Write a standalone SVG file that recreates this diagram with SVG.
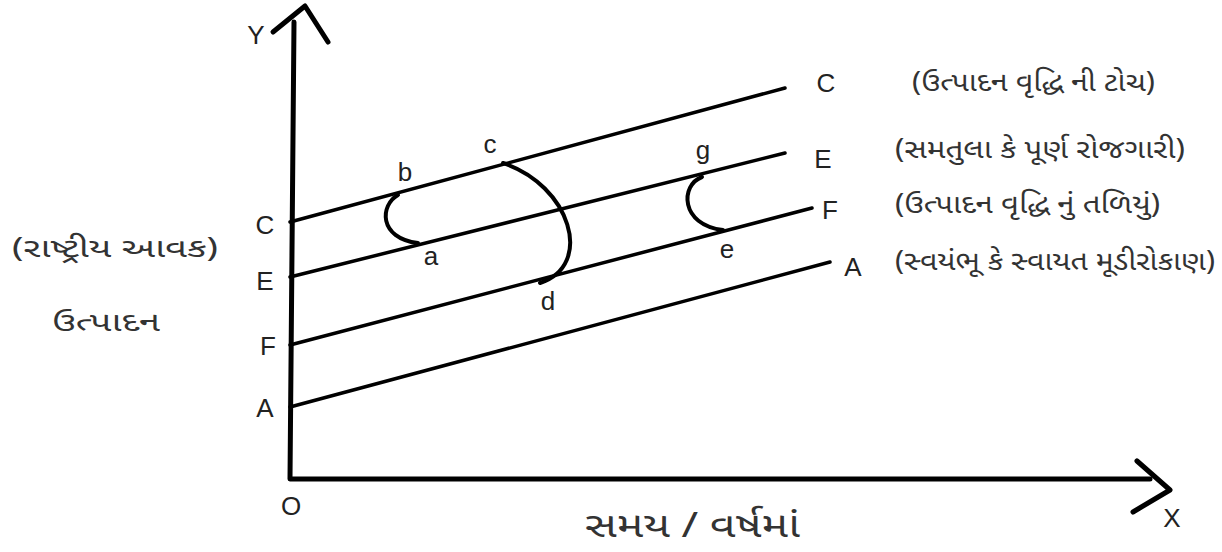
<svg xmlns="http://www.w3.org/2000/svg" width="1222" height="552" viewBox="0 0 1222 552">
<style>
.ax{stroke:#000;stroke-width:5;fill:none;stroke-linecap:round;stroke-linejoin:round}
.ln{stroke:#000;stroke-width:3.5;fill:none;stroke-linecap:round}
.cv{stroke:#000;stroke-width:4;fill:none;stroke-linecap:round}
.lb{font-family:"Liberation Sans",Arial,sans-serif;font-size:26px;fill:#222}
.gu{font-family:"Noto Sans Gujarati","Lohit Gujarati","Noto Sans","DejaVu Sans",sans-serif;font-size:27px;fill:#333}
.gb{font-family:"Noto Sans Gujarati","Lohit Gujarati","Noto Sans","DejaVu Sans",sans-serif;font-size:35px;fill:#333}
</style>
<rect width="1222" height="552" fill="#fff"/>
<g id="axes">
<path class="ax" d="M294,22 L290,479 L1150,479"/>
<path class="ax" d="M273,32 L305,6 L328,42"/>
<path class="ax" d="M1137,461 L1170,490 L1133,512"/>
<text class="lb" x="256" y="44" text-anchor="middle">Y</text>
<text class="lb" x="1172" y="527" text-anchor="middle">X</text>
<text class="lb" x="291" y="515" text-anchor="middle">O</text>
</g>
<g id="connectors">
<line class="ln" x1="290" y1="222" x2="785" y2="88"/>
<line class="ln" x1="290" y1="277" x2="785" y2="153"/>
<line class="ln" x1="290" y1="345" x2="812" y2="208"/>
<line class="ln" x1="290" y1="407" x2="830" y2="262"/>
<path class="cv" d="M398,195 C380,205 378,238 418,243"/>
<path class="cv" d="M503,163 C570,185 595,265 540,283"/>
<path class="cv" d="M702,177 C680,185 680,225 723,230"/>
</g>
<g id="line-C">
<text class="lb" x="265" y="234" text-anchor="middle">C</text>
<text class="lb" x="826" y="92" text-anchor="middle">C</text>
<text class="gu" x="912" y="91" textLength="243" lengthAdjust="spacingAndGlyphs">(ઉત્પાદન વૃદ્ધિ ની ટોચ)</text>
</g>
<g id="line-E">
<text class="lb" x="265" y="290" text-anchor="middle">E</text>
<text class="lb" x="823" y="168" text-anchor="middle">E</text>
<text class="gu" x="895" y="158" textLength="290" lengthAdjust="spacingAndGlyphs">(સમતુલા કે પૂર્ણ રોજગારી)</text>
</g>
<g id="line-F">
<text class="lb" x="268" y="355" text-anchor="middle">F</text>
<text class="lb" x="830" y="219" text-anchor="middle">F</text>
<text class="gu" x="895" y="213" textLength="265" lengthAdjust="spacingAndGlyphs">(ઉત્પાદન વૃદ્ધિ નું તળિયું)</text>
</g>
<g id="line-A">
<text class="lb" x="265" y="417" text-anchor="middle">A</text>
<text class="lb" x="853" y="276" text-anchor="middle">A</text>
<text class="gu" x="895" y="270" textLength="320" lengthAdjust="spacingAndGlyphs">(સ્વયંભૂ કે સ્વાયત મૂડીરોકાણ)</text>
</g>
<g id="points">
<text class="lb" x="405" y="181" text-anchor="middle">b</text>
<text class="lb" x="490" y="153" text-anchor="middle">c</text>
<text class="lb" x="431" y="265" text-anchor="middle">a</text>
<text class="lb" x="548" y="310" text-anchor="middle">d</text>
<text class="lb" x="703" y="159" text-anchor="middle">g</text>
<text class="lb" x="727" y="258" text-anchor="middle">e</text>
</g>
<g id="y-label">
<text class="gu" x="12" y="257" textLength="206" lengthAdjust="spacingAndGlyphs">(રાષ્ટ્રીય આવક)</text>
<text class="gu" x="52" y="331" textLength="108" lengthAdjust="spacingAndGlyphs">ઉત્પાદન</text>
</g>
<g id="x-label">
<text class="gb" x="585" y="537" textLength="215" lengthAdjust="spacingAndGlyphs">સમય / વર્ષમાં</text>
</g>
</svg>
